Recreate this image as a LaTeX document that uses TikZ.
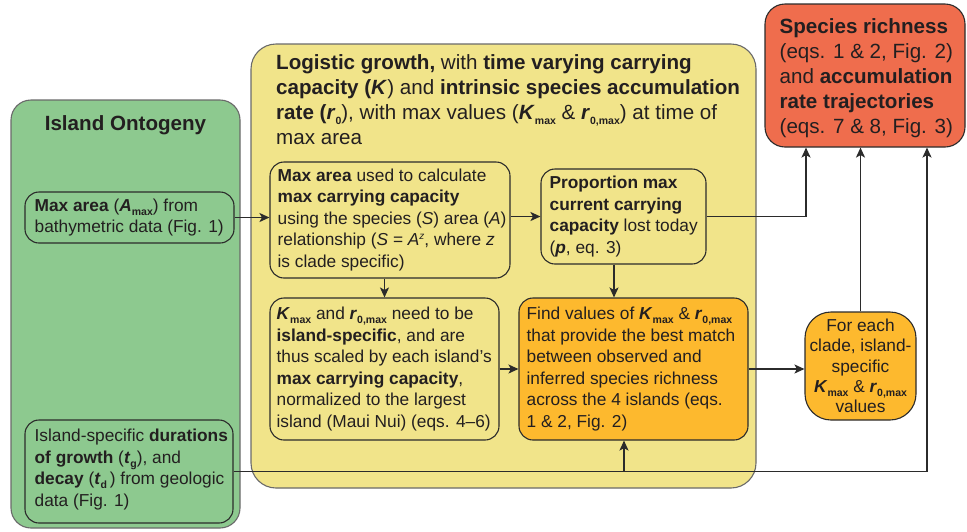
\documentclass[tikz,border=0pt]{standalone}
\usepackage{fontspec}
\setmainfont{Liberation Sans}
\usetikzlibrary{arrows.meta}
\definecolor{greenf}{HTML}{8DC98F}
\definecolor{yellowf}{HTML}{F1E48A}
\definecolor{orangef}{HTML}{FDB92E}
\definecolor{redf}{HTML}{EF6D4D}
\definecolor{txt}{HTML}{231F20}
\definecolor{edge}{HTML}{2B2B2B}
\definecolor{outer}{HTML}{6A6A6A}
\newcommand\fs{\fontsize{17.3}{21.5}\selectfont}
\newcommand\fl{\fontsize{20.6}{25}\selectfont}
\newcommand\bi[1]{\textbf{\textit{#1}}}
\newcommand\sbx[1]{\raisebox{-0.45ex}{\fontsize{10.5}{10.5}\selectfont\bfseries #1}}
\newcommand\spz[1]{\raisebox{0.75ex}{\fontsize{10}{10}\selectfont\itshape #1}}
\begin{document}
\begin{tikzpicture}[x=1pt,y=-1pt,
  box/.style={draw=edge, line width=1.1pt, rounded corners=14pt, inner sep=0pt},
  bigbox/.style={draw=outer, line width=1.1pt, inner sep=0pt},
  lbl/.style={anchor=west, align=left, inner sep=0pt, text=txt, font=\fs},
  conn/.style={draw=edge, line width=1.8pt},
  arr/.style={conn, -{Stealth[length=10pt,width=9pt,inset=2.5pt]}}]
\useasboundingbox (0,0) rectangle (967,531);

% outer panels
\node[bigbox, fill=greenf, rounded corners=20pt, minimum width=229pt, minimum height=428pt] (green) at (125.5,314) {};
\node[font=\fl\bfseries, text=txt, inner sep=0pt] (gtitle) at (125.5,125) {Island Ontogeny};

\node[bigbox, fill=yellowf, rounded corners=25pt, minimum width=505pt, minimum height=444pt] (yellow) at (503.5,266) {};
\node[lbl, font=\fl] (ytitle) at (276,99.5)
 {\textbf{Logistic growth,} with \textbf{time varying carrying}\\
  \textbf{capacity (}\bi{K}) and \textbf{intrinsic species accumulation}\\
  \textbf{rate (}\bi{r}\sbx{0}), with max values (\bi{K}\sbx{max} \& \bi{r}\sbx{0,max}) at time of\\
  max area};

% green inner boxes
\node[box, minimum width=209pt, minimum height=51pt] (maxarea) at (129.5,217.5) {};
\node[lbl] (maxareaT) at ([xshift=10pt]maxarea.west)
 {\textbf{Max area} (\bi{A}\sbx{max}) from\\ bathymetric data (Fig. 1)};
\node[box, minimum width=208pt, minimum height=103pt] (durations) at (129,471.5) {};
\node[lbl] (durationsT) at ([xshift=10pt,yshift=2pt]durations.west)
 {Island-specific \textbf{durations}\\ \textbf{of growth} (\bi{t}\sbx{g}), and\\ \textbf{decay} (\bi{t}\sbx{d}\,) from geologic\\ data (Fig. 1)};

% yellow inner boxes
\node[box, minimum width=240pt, minimum height=116pt] (boxA) at (390,220) {};
\node[lbl] (boxAT) at ([xshift=8pt]boxA.west)
 {\textbf{Max area} used to calculate\\ \textbf{max carrying capacity}\\ using the species (\textit{S}) area (\textit{A})\\ relationship (\textit{S} = \textit{A}\spz{z}, where \textit{z}\\ is clade specific)};
\node[box, minimum width=165pt, minimum height=95pt] (boxB) at (623.5,216.5) {};
\node[lbl] (boxBT) at ([xshift=9pt]boxB.west)
 {\textbf{Proportion max}\\ \textbf{current carrying}\\ \textbf{capacity} lost today\\ (\bi{p}, eq. 3)};
\node[box, minimum width=229pt, minimum height=142pt] (boxC) at (384.5,369) {};
\node[lbl] (boxCT) at ([xshift=7pt]boxC.west)
 {\bi{K}\sbx{max} and \bi{r}\sbx{0,max} need to be\\ \textbf{island-specific}, and are\\ thus scaled by each island’s\\ \textbf{max carrying capacity},\\ normalized to the largest\\ island (Maui Nui) (eqs. 4–6)};
\node[box, fill=orangef, minimum width=229pt, minimum height=142pt] (boxD) at (633.5,369) {};
\node[lbl] (boxDT) at ([xshift=8pt]boxD.west)
 {Find values of \bi{K}\sbx{max} \& \bi{r}\sbx{0,max}\\ that provide the best match\\ between observed and\\ inferred species richness\\ across the 4 islands (eqs.\\ 1 \& 2, Fig. 2)};

% right boxes
\node[box, fill=orangef, rounded corners=26pt, minimum width=111pt, minimum height=108pt] (boxE) at (860.5,366) {};
\node[lbl, anchor=center, align=center, font=\fontsize{17.3}{20.3}\selectfont] (boxET) at (boxE.center)
 {For each\\ clade, island-\\ specific\\ \bi{K}\sbx{max} \& \bi{r}\sbx{0,max}\\ values};
\node[box, fill=redf, rounded corners=20pt, minimum width=200pt, minimum height=143pt] (red) at (865,75.5) {};
\node[lbl, font=\fl] (redT) at ([xshift=15pt,yshift=-3pt]red.west)
 {\textbf{Species richness}\\ (eqs. 1 \& 2, Fig. 2)\\ and \textbf{accumulation}\\ \textbf{rate trajectories}\\ (eqs. 7 \& 8, Fig. 3)};

% connectors
\draw[arr] (maxarea.east) -- (maxarea.east -| boxA.west);
\draw[arr] (boxB.west -| boxA.east) -- (boxB.west);
\draw[arr] (boxC.north |- boxA.south) -- (boxC.north);
\draw[arr] ([xshift=-9.5pt]boxB.south) -- ([xshift=-9.5pt]boxB.south |- boxD.north);
\draw[arr] (boxB.east) -| ([xshift=-59pt]red.south);
\draw[arr] (boxC.east) -- (boxC.east -| boxD.west);
\draw[arr] (boxD.east) -- (boxD.east -| boxE.west);
\draw[arr] (boxE.north) -- (boxE.north |- red.south);
\draw[arr] (durations.east) -| ([xshift=62pt]red.south);
\coordinate (j) at ([xshift=-9.5pt]boxD.south |- durations.east);
\draw[arr] (j) -- ([xshift=-9.5pt]boxD.south);
\end{tikzpicture}
\end{document}
